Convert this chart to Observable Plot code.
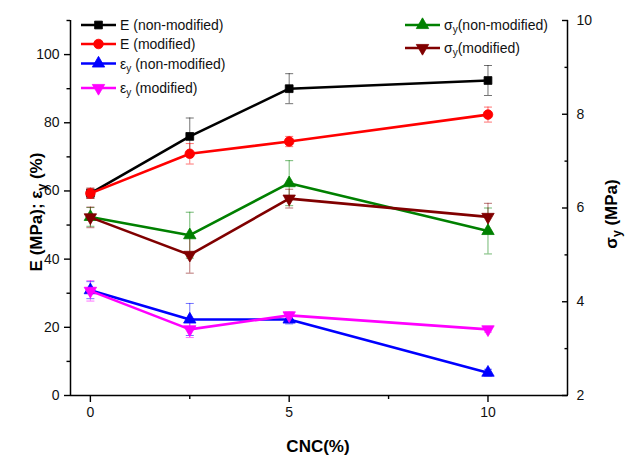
<!DOCTYPE html>
<html>
<head>
<meta charset="utf-8">
<script src="https://cdn.jsdelivr.net/npm/d3@7"></script>
<script src="https://cdn.jsdelivr.net/npm/@observablehq/plot@0.6"></script>
<style>
  html, body { margin: 0; padding: 0; background: #fff; }
  #chart svg { display: block; }
</style>
</head>
<body>
<div id="chart"></div>
<script>
// ---------- data ----------
const cnc = [0, 2.5, 5, 10];

const E_non = [59.3, 76.0, 90.0, 92.4];
const E_non_err = [1.5, 5.4, 4.4, 4.4];
const E_mod = [59.3, 70.9, 74.5, 82.4];
const E_mod_err = [1.5, 3.0, 1.5, 2.2];

const eps_non = [30.9, 22.3, 22.3, 6.7];
const eps_non_err = [2.5, 4.7, 1.3, 1.0];
const eps_mod = [30.7, 19.4, 23.5, 19.4];
const eps_mod_err = [3.0, 2.4, 1.0, 0.8];

// right axis (MPa)
const sig_non = [5.81, 5.42, 6.53, 5.51];
const sig_non_err = [0.2, 0.49, 0.48, 0.49];
const sig_mod = [5.8, 5.0, 6.2, 5.81];
const sig_mod_err = [0.22, 0.39, 0.2, 0.29];

const xDomain = [-0.5, 12];
const yDomain = [0, 110];
const y2Domain = [2, 10];
const xTicksMajor = [0, 5, 10];
const xTicksMinor = [2.5, 7.5];
const yTicksMajor = [0, 20, 40, 60, 80, 100];
const yTicksMinor = [10, 30, 50, 70, 90, 110];
const y2TicksMajor = [2, 4, 6, 8, 10];
const y2TicksMinor = [3, 5, 7, 9];

const xTitle = "CNC(%)";
const seriesNames = ["E (non-modified)", "E (modified)", "ε_y (non-modified)", "ε_y (modified)", "σ_y(non-modified)", "σ_y(modified)"];

// ---------- styles ----------
const sq3 = Math.sqrt(3);
const triDown = {
  draw(ctx, size) {
    const y = -Math.sqrt(size / (sq3 * 3));
    ctx.moveTo(0, -y * 2);
    ctx.lineTo(-sq3 * y, y);
    ctx.lineTo(sq3 * y, y);
    ctx.closePath();
  }
};
const capSym = { draw(ctx) { ctx.moveTo(-4, 0); ctx.lineTo(4, 0); } };

const series = [
  {name: seriesNames[0], v: E_non, e: E_non_err, axis: "left", color: "#000000", symbol: "square", r: 4.4},
  {name: seriesNames[1], v: E_mod, e: E_mod_err, axis: "left", color: "#ff0000", symbol: "circle", r: 4.8},
  {name: seriesNames[2], v: eps_non, e: eps_non_err, axis: "left", color: "#0000ff", symbol: "triangle", r: 4.6},
  {name: seriesNames[3], v: eps_mod, e: eps_mod_err, axis: "left", color: "#ff00ff", symbol: triDown, r: 4.6},
  {name: seriesNames[4], v: sig_non, e: sig_non_err, axis: "right", color: "#008000", symbol: "triangle", r: 4.6},
  {name: seriesNames[5], v: sig_mod, e: sig_mod_err, axis: "right", color: "#800000", symbol: triDown, r: 4.6}
];

// right axis values mapped onto the left axis range
const r2l = d3.scaleLinear(y2Domain, yDomain);
const l2r = r2l.invert;

const tables = series.map(s => {
  const conv = s.axis === "right" ? r2l : (d => d);
  return cnc.map((x, j) => ({
    x, y: conv(s.v[j]), lo: conv(s.v[j] - s.e[j]), hi: conv(s.v[j] + s.e[j])
  }));
});

const FONT = "'Liberation Sans', Arial, Helvetica, sans-serif";

const marks = [];
// error bars
series.forEach((s, i) => {
  const t = tables[i];
  marks.push(Plot.ruleX(t, {x: "x", y1: "lo", y2: "hi", stroke: s.color, strokeOpacity: 0.55, strokeWidth: 1}));
  marks.push(Plot.dot(t, {x: "x", y: "lo", symbol: capSym, r: 3, stroke: s.color, strokeOpacity: 0.55, strokeWidth: 1}));
  marks.push(Plot.dot(t, {x: "x", y: "hi", symbol: capSym, r: 3, stroke: s.color, strokeOpacity: 0.55, strokeWidth: 1}));
});
// lines & markers
series.forEach((s, i) => {
  const t = tables[i];
  marks.push(Plot.line(t, {x: "x", y: "y", stroke: s.color, strokeWidth: 2.6}));
  marks.push(Plot.dot(t, {x: "x", y: "y", symbol: s.symbol, r: s.r, fill: s.color, stroke: s.color, strokeWidth: 0.8}));
});

// axis lines (left, right, bottom) — no top line
marks.push(Plot.ruleX([xDomain[0], xDomain[1]], {stroke: "#000", strokeWidth: 1.5}));
marks.push(Plot.ruleY([yDomain[0]], {stroke: "#000", strokeWidth: 1.5}));

// axes
const tk = {stroke: "#000", strokeWidth: 1.4};
marks.push(Plot.axisX(xTicksMajor, {...tk, tickSize: 7, tickPadding: 5, fontSize: 14, label: null, tickFormat: d => String(d)}));
marks.push(Plot.axisX(xTicksMinor, {...tk, tickSize: 4, label: null, tickFormat: () => ""}));
marks.push(Plot.axisY(yTicksMajor, {...tk, anchor: "left", tickSize: 6, tickPadding: 5, fontSize: 14, label: null}));
marks.push(Plot.axisY(yTicksMinor, {...tk, anchor: "left", tickSize: 3.5, label: null, tickFormat: () => ""}));
marks.push(Plot.axisY(y2TicksMajor.map(r2l), {...tk, anchor: "right", tickSize: -6, tickPadding: 15, fontSize: 14, label: null, tickFormat: d => String(Math.round(l2r(d)))}));
marks.push(Plot.axisY(y2TicksMinor.map(r2l), {...tk, anchor: "right", tickSize: -3.5, tickPadding: 15, label: null, tickFormat: () => ""}));

const plot = Plot.plot({
  width: 626,
  height: 457,
  marginLeft: 70,
  marginRight: 59,
  marginTop: 20,
  marginBottom: 62,
  style: {fontFamily: FONT, fontSize: "14px", color: "#111", background: "#fff"},
  x: {domain: xDomain},
  y: {domain: yDomain},
  marks
});
document.getElementById("chart").appendChild(plot);

// ---------- titles & legend (text with subscripts) ----------
const svg = d3.select(plot);
function richText(g, parts, attrs) {
  const t = g.append("text");
  Object.entries(attrs).forEach(([k, v]) => t.attr(k, v));
  let shifted = false;
  parts.split(/(_y)/).forEach(p => {
    if (!p) return;
    if (p === "_y") {
      t.append("tspan").attr("dy", "0.3em").attr("font-size", "0.72em").text("y");
      shifted = true;
    } else {
      const ts = t.append("tspan").text(p);
      if (shifted) { ts.attr("dy", "-0.216em"); shifted = false; }
    }
  });
  return t;
}

const titles = svg.append("g").attr("font-family", FONT).attr("font-weight", "bold").attr("font-size", 17).attr("fill", "#000");
richText(titles, xTitle, {x: 318, y: 452, "text-anchor": "middle"});
richText(titles, "E (MPa); ε_y (%)", {transform: "translate(42,212) rotate(-90)", "text-anchor": "middle"});
richText(titles, "σ_y (MPa)", {transform: "translate(617,214) rotate(-90)", "text-anchor": "middle"});

const leg = svg.append("g").attr("font-family", FONT).attr("font-size", 14).attr("fill", "#111").attr("text-anchor", "start");
const legendRows = [
  {i: 0, x: 81, y: 25}, {i: 1, x: 81, y: 44}, {i: 2, x: 81, y: 63.5}, {i: 3, x: 81, y: 88},
  {i: 4, x: 405, y: 25}, {i: 5, x: 405, y: 48}
];
legendRows.forEach(({i, x, y}) => {
  const s = series[i];
  leg.append("line").attr("x1", x).attr("x2", x + 35).attr("y1", y).attr("y2", y)
    .attr("stroke", s.color).attr("stroke-width", 2.6);
  const sym = typeof s.symbol === "string"
    ? {square: d3.symbolSquare, circle: d3.symbolCircle, triangle: d3.symbolTriangle}[s.symbol]
    : s.symbol;
  leg.append("path").attr("d", d3.symbol(sym, s.r * s.r * Math.PI)())
    .attr("transform", `translate(${x + 17.5},${y})`).attr("fill", s.color).attr("stroke", s.color).attr("stroke-width", 0.8);
  richText(leg, s.name, {x: x + 39, y: y + 5, "text-anchor": "start"});
});
</script>
</body>
</html>
